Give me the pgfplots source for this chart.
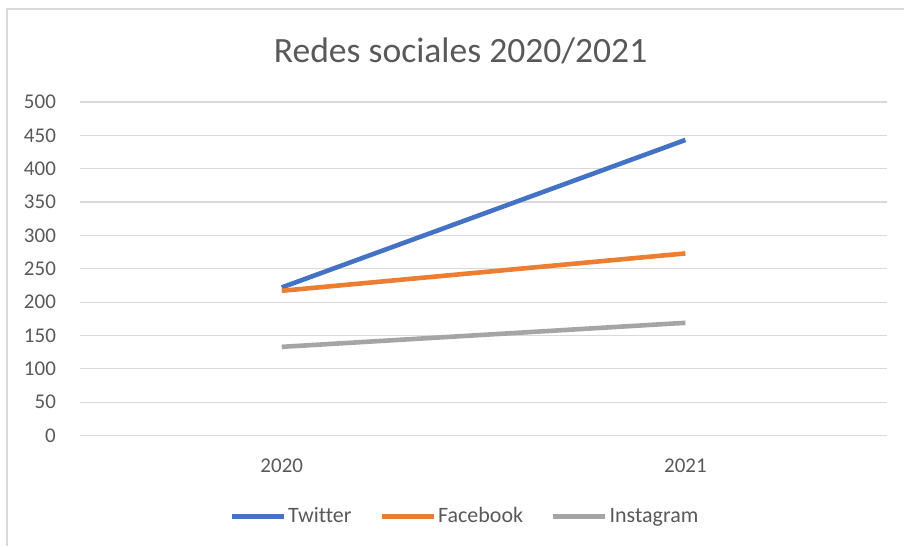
\documentclass[border=0pt]{standalone}
\usepackage{pgfplots}
\pgfplotsset{compat=1.18}
\usepackage{fontspec}
\setmainfont[Ligatures=NoCommon]{Carlito}
\definecolor{cblue}{HTML}{4472C4}
\definecolor{corange}{HTML}{ED7D31}
\definecolor{cgray}{HTML}{A5A5A5}
\definecolor{ctext}{HTML}{595959}
\definecolor{cgrid}{HTML}{D9D9D9}
\begin{document}
\begin{tikzpicture}[x=0.5pt,y=0.5pt]
\path (0,0) rectangle (905,546);
\draw[cgrid,line width=0.8pt] (7,0) -- (7,537) -- (905,537);
\node[text=ctext,font=\fontsize{17.8}{20}\selectfont] at (461,495) {Redes sociales 2020/2021};
\begin{axis}[
  at={(80pt*0.5,110pt*0.5)}, anchor=south west,
  scale only axis, width=404pt, height=167pt,
  xmin=-0.5, xmax=1.5, ymin=0, ymax=500,
  xtick={0,1}, xticklabels={2020,2021},
  ytick={0,50,...,500},
  axis line style={draw=none},
  major tick length=0pt,
  ymajorgrids, grid style={cgrid,line width=0.6pt},
  tick label style={text=ctext,font=\fontsize{10.5}{12}\selectfont},
  yticklabel style={xshift=-8.5pt},
  xticklabel style={yshift=-8pt},
  /pgf/number format/assume math mode=true,
  legend columns=3,
  legend style={at={(0.477,-0.243)}, anchor=center, draw=none, fill=none,
    font=\fontsize{11}{12}\selectfont, text=ctext,
    nodes={inner xsep=1pt},
    /tikz/every even column/.append style={column sep=13pt},
    /tikz/every odd column/.append style={column sep=0pt}},
  legend image code/.code={\draw[#1] (0pt,0pt) -- (26pt,0pt);},
]
\addplot[cblue, line width=2.3pt] coordinates {(0,222) (1,443)};
\addplot[corange, line width=2.3pt] coordinates {(0,217) (1,273)};
\addplot[cgray, line width=2.3pt] coordinates {(0,133) (1,169)};
\legend{Twitter,Facebook,Instagram}
\end{axis}
\end{tikzpicture}
\end{document}
